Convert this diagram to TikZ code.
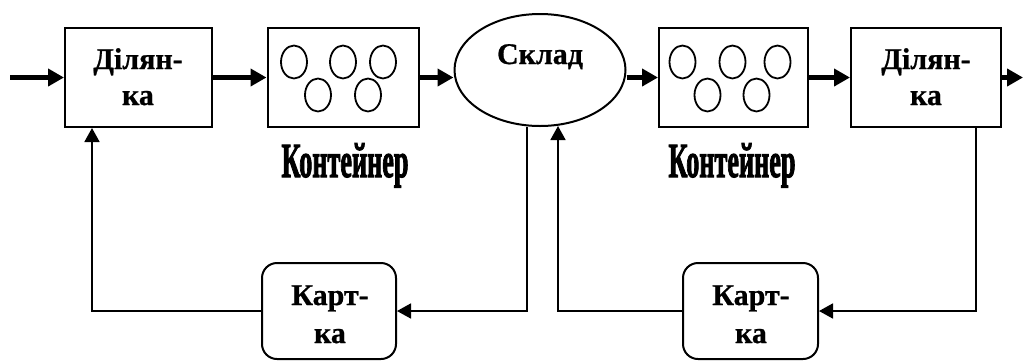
\documentclass[tikz,border=0pt]{standalone}
\usepackage{fontspec}
\usepackage{graphicx}
\setmainfont{Liberation Serif}
\newfontfamily\lblfont{Liberation Serif}[UprightFont={* Bold},FakeBold=0.8]
\newfontfamily\heavy{Liberation Serif}[UprightFont={* Bold},FakeBold=2.5]
\usetikzlibrary{arrows.meta,calc,shapes.geometric}
\begin{document}
\begin{tikzpicture}[x=1pt,y=-1pt,
  box/.style={draw,line width=2pt,minimum width=#1,minimum height=99pt,inner sep=0pt},
  lbl/.style={font=\lblfont\fontsize{30}{37}\selectfont,anchor=base,inner sep=0pt},
  mainarrow/.style={line width=4.5pt,-{Triangle[length=16pt,width=17pt]}},
  fbarrow/.style={line width=1.8pt,-{Triangle[length=14pt,width=15pt]}},
  bead/.style={draw,line width=1.8pt,ellipse,minimum width=26pt,minimum height=33pt,inner sep=0pt},
  cont/.style={anchor=base,inner sep=0pt}
]
\useasboundingbox (0,0) rectangle (1023,360);

% main chain
\node[box=147pt] (d1) at (138.5,77.5) {};
\node[box=151pt] (c1) at (343,77.5) {};
\node[draw,ellipse,line width=2pt,minimum width=171pt,minimum height=112pt,inner sep=0pt] (s) at (540,70) {};
\node[box=149pt] (c2) at (733.5,77.5) {};
\node[box=150pt] (d2) at (926,77.5) {};

% labels
\node[lbl] (d1t1) at (138,69) {Ділян-};
\node[lbl] (d1t2) at (138,105) {ка};
\node[lbl] (stxt) at (540,64) {Склад};
\node[lbl] (d2t1) at (926,69) {Ділян-};
\node[lbl] (d2t2) at (926,105) {ка};

% beads in containers
\foreach \dx/\dy [count=\i] in {-49/-15.5,0/-15.5,40/-15.5,-25/17.5,25/17.5}{
  \node[bead] (c1b\i) at ($(c1)+(\dx,\dy)$) {};
}
\foreach \dx/\dy [count=\i] in {-51/-15.5,-1/-15.5,44/-15.5,-26/17.5,23/17.5}{
  \node[bead] (c2b\i) at ($(c2)+(\dx,\dy)$) {};
}

% container labels
\node[cont] (cl1) at (345,177) {\resizebox{127pt}{\height}{\heavy\fontsize{49}{49}\selectfont Контейнер}};
\node[cont] (cl2) at (732,177) {\resizebox{127pt}{\height}{\heavy\fontsize{49}{49}\selectfont Контейнер}};

% cards
\node[box=134pt,minimum height=96pt,rounded corners=15pt] (k1) at (329,311) {};
\node[box=135pt,minimum height=96pt,rounded corners=15pt] (k2) at (750.5,311) {};
\node[lbl] (k1t1) at (330,305) {Карт-};
\node[lbl] (k1t2) at (330,343) {ка};
\node[lbl] (k2t1) at (751,305) {Карт-};
\node[lbl] (k2t2) at (751,343) {ка};

% main arrows
\coordinate (in) at (10,77.5);
\coordinate (out) at (1023,77.5);
\draw[mainarrow] (in) -- (d1.west);
\draw[mainarrow] (d1.east) -- (c1.west);
\draw[mainarrow] (c1.east) -- (c1.east -| s.west);
\draw[mainarrow] (s.east |- c2.west) -- (c2.west);
\draw[mainarrow] (c2.east) -- (d2.west);
\draw[mainarrow] (d2.east) -- (out);

% feedback loops
\draw[fbarrow] ($(s.south)+(-13,-0.5)$) |- (k1.east);
\draw[fbarrow] (k1.west) -| ($(d1.south west)+(28,0)$);
\draw[fbarrow] ($(d2.south west)+(126,0)$) |- (k2.east);
\draw[fbarrow] (k2.west) -| ($(s.south)+(18,-1)$);
\end{tikzpicture}
\end{document}
